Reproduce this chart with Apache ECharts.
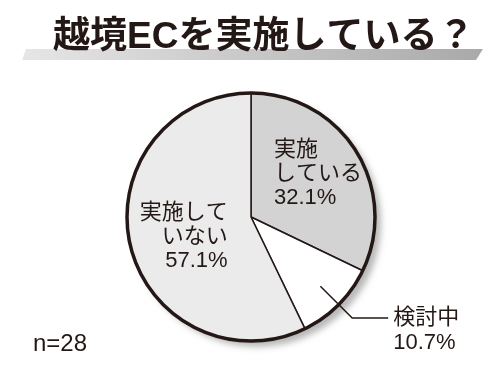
<!DOCTYPE html>
<html><head><meta charset="utf-8">
<script src="https://cdn.jsdelivr.net/npm/echarts@6/dist/echarts.min.js"></script>
<style>html,body{margin:0;padding:0;background:#fff}#c{width:500px;height:375px}</style>
</head><body><div id="c"></div>
<script>
const categories = ['実施している', '検討中', '実施していない'];
const labelNames = ['実施\nしている', '検討中', '実施して\nいない'];
const values = [32.1, 10.7, 57.1];
const titleText = '越境ECを実施している？';
const sampleNote = 'n=28';

const INK = '#231815';
const FONT = '"Liberation Sans", "Noto Sans CJK JP", sans-serif';
const sliceColors = ['#d3d3d3', '#ffffff', '#ebebeb'];
const CENTER = [251, 217];
const R = 124;

const chart = echarts.init(document.getElementById('c'), null, {renderer: 'canvas'});

const pct = v => v.toFixed(1) + '%';

const mainData = categories.map((name, i) => ({
  name, value: values[i],
  itemStyle: {color: sliceColors[i]},
  label: {show: i !== 1}
}));
const leaderData = categories.map((name, i) => ({
  name, value: values[i],
  label: {show: i === 1},
  labelLine: {show: i === 1}
}));

chart.setOption({
  animation: false,
  title: {
    text: titleText, left: 48, top: 14, z: 10,
    textStyle: {fontFamily: FONT, fontSize: 37, fontWeight: 'bold', color: INK}
  },
  graphic: [
    {type: 'polygon', z: 1, silent: true,
     shape: {points: [[26, 49], [483, 49], [476, 60], [22, 60]]},
     style: {fill: new echarts.graphic.LinearGradient(0, 0, 1, 0, [
       {offset: 0, color: '#e6e6e6'}, {offset: 1, color: '#a9a9a9'}])}},
    {type: 'text', left: 33, top: 332, silent: true,
     style: {text: sampleNote, font: '24px ' + FONT, fill: INK}}
  ],
  series: [
    { // shadow disc
      type: 'pie', silent: true, center: CENTER, radius: R, z: 1,
      label: {show: false}, labelLine: {show: false},
      data: [{value: 1}],
      itemStyle: {color: '#ffffff', shadowColor: 'rgba(0,0,0,0.28)', shadowBlur: 6,
                  shadowOffsetX: 6, shadowOffsetY: 6}
    },
    { // main pie
      type: 'pie', silent: true, center: CENTER, radius: R, z: 2,
      startAngle: 90, clockwise: true, avoidLabelOverlap: false,
      data: mainData,
      itemStyle: {borderColor: INK, borderWidth: 1.5},
      label: {
        position: 'inside', fontFamily: FONT, fontSize: 22, lineHeight: 24, color: INK,
        formatter: p => labelNames[p.dataIndex] + '\n' + pct(p.value)
      },
      labelLayout: function (p) {
        if (p.dataIndex === 0) return {dx: -32, dy: -8, align: 'left'};
        if (p.dataIndex === 2) return {dx: 40, dy: 5, align: 'right'};
        return {};
      }
    },
    { // outline ring
      type: 'pie', silent: true, center: CENTER, radius: R, z: 3,
      label: {show: false}, labelLine: {show: false},
      data: [{value: 1}],
      itemStyle: {color: 'rgba(0,0,0,0)', borderColor: INK, borderWidth: 3.5}
    },
    { // leader line for small slice
      type: 'pie', silent: true, center: CENTER, radius: 98, z: 4,
      startAngle: 90, clockwise: true, avoidLabelOverlap: false,
      data: leaderData,
      itemStyle: {color: 'rgba(0,0,0,0)', borderWidth: 0},
      label: {
        position: 'outside', fontFamily: FONT, fontSize: 22, lineHeight: 25, color: INK,
        distanceToLabelLine: 5,
        formatter: p => '\n' + labelNames[p.dataIndex] + '\n' + pct(p.value)
      },
      labelLine: {length: 45, length2: 36, smooth: false,
                  lineStyle: {color: INK, width: 1.5}}
    }
  ]
});
</script>
</body></html>
